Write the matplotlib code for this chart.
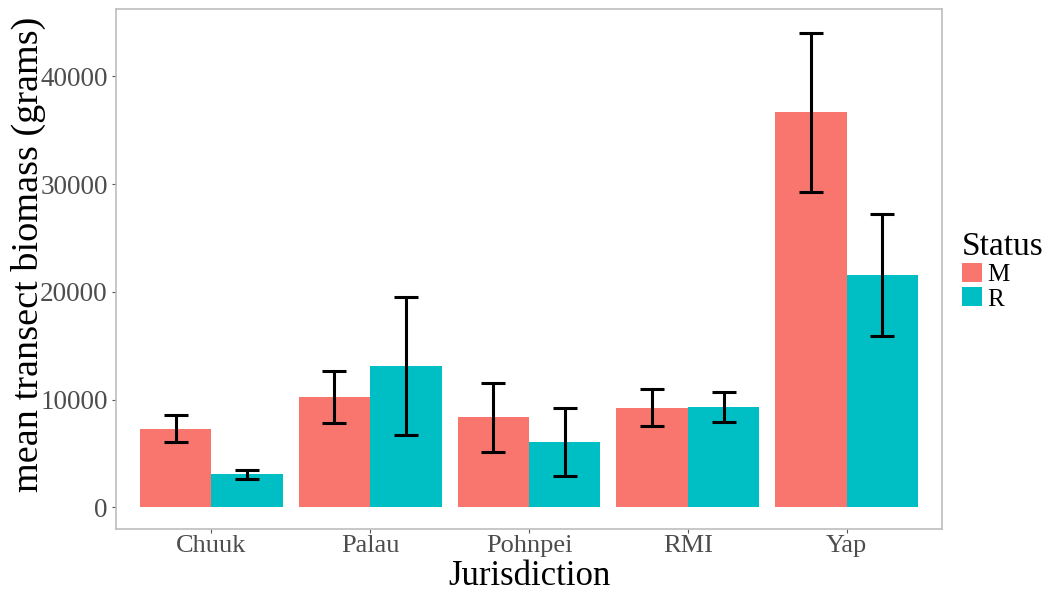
import matplotlib
matplotlib.use("Agg")
import matplotlib.pyplot as plt
from matplotlib.patches import Patch
import numpy as np

# data
places = ["Chuuk", "Palau", "Pohnpei", "RMI", "Yap"]
mean_M = [7290, 10230, 8390, 9250, 36670]
se_M   = [1250, 2440, 3200, 1720, 7370]
mean_R = [3090, 13120, 6060, 9360, 21580]
se_R   = [430, 6390, 3150, 1390, 5690]

col_M = "#F8766D"
col_R = "#00BFC4"

plt.rcParams['font.family'] = ['Liberation Serif', 'DejaVu Serif']

fig = plt.figure(figsize=(10.5, 5.93), dpi=100)
ax = fig.add_axes([116/1050, 64/593, 826/1050, 520/593])

x = np.arange(len(places))
w = 0.45
ax.bar(x - w/2, mean_M, width=w, color=col_M, edgecolor="none", label="M", zorder=2)
ax.bar(x + w/2, mean_R, width=w, color=col_R, edgecolor="none", label="R", zorder=2)

ekw = dict(fmt="none", ecolor="black", elinewidth=2.2, capsize=8.6, capthick=2.2, zorder=3)
ax.errorbar(x - w/2, mean_M, yerr=se_M, **ekw)
ax.errorbar(x + w/2, mean_R, yerr=se_R, **ekw)

ax.set_xlim(-0.6, len(places) - 0.4)
ax.set_ylim(-2000, 46250)
ax.set_xticks(x)
ax.set_xticklabels(places)
ax.set_yticks([0, 10000, 20000, 30000, 40000])

# frame and ticks
for s in ax.spines.values():
    s.set_color("#bdbdbd")
    s.set_linewidth(1.2)
ax.tick_params(axis="both", which="both", length=3, width=0.8, color="#555555",
               labelsize=19.5, labelcolor="#4D4D4D", pad=3)
ax.tick_params(axis="x", labelsize=19, pad=1.5)

ax.set_xlabel("Jurisdiction", fontsize=25, va="bottom")
ax.xaxis.set_label_coords(0.5, -0.1235)
ax.set_ylabel("mean transect biomass (grams)", fontsize=27.5, va="center")
ax.yaxis.set_label_coords(-0.1065, 0.529)

handles = [Patch(facecolor=col_M, edgecolor="none"), Patch(facecolor=col_R, edgecolor="none")]
leg = fig.legend(handles, ["M", "R"], title="Status", loc="upper left",
                 bbox_to_anchor=(962/1050, 1 - 231/593), frameon=False,
                 fontsize=18, title_fontsize=24, handlelength=0.8, handleheight=0.8,
                 labelspacing=0.05, handletextpad=0.2, borderpad=0, borderaxespad=0)
leg._legend_box.align = "left"

fig.savefig("out.png", dpi=100)
